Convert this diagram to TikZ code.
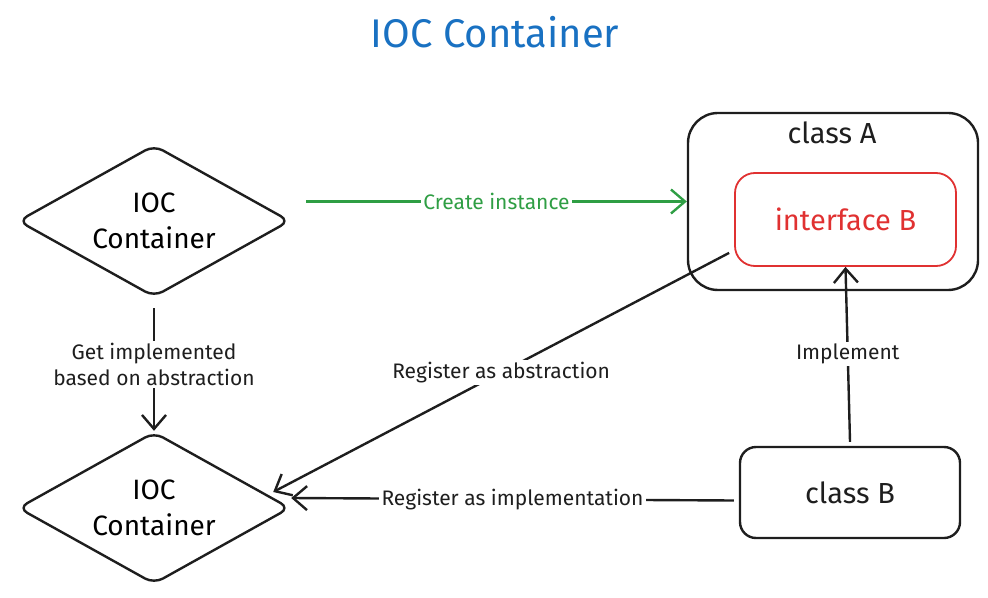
\documentclass[tikz,border=0pt]{standalone}
\usepackage{fontspec}
\setmainfont{Fira Sans}
\usepackage{tikz}
\usetikzlibrary{shapes.geometric,arrows.meta,calc}

\definecolor{inkblack}{HTML}{1E1E1E}
\definecolor{inkblue}{HTML}{1971C2}
\definecolor{inkred}{HTML}{E03131}
\definecolor{inkgreen}{HTML}{2F9E44}

\begin{document}
\begin{tikzpicture}[x=0.5pt,y=-0.5pt,
        container/.style={diamond,aspect=1.8,draw=inkblack,line width=1.2pt,rounded corners=5pt,
            minimum width=136pt,minimum height=76pt,inner sep=0pt,align=center,
            font=\fontsize{14}{18}\selectfont},
        classbox/.style={draw=inkblack,line width=1.2pt,inner sep=0pt},
        flow/.style={draw=inkblack,line width=1.2pt,-{Straight Barb[length=7pt,width=12pt]}},
        flowlabel/.style={fill=white,inner sep=1pt,text=inkblack,
            font=\fontsize{10.5}{13}\selectfont,align=center},
    ]
    \useasboundingbox (0,0) rectangle (988,598);
    % title
    \node[text=inkblue,font=\fontsize{20}{22}\selectfont] (title) at (495,32) {IOC Container};
    % containers
    \node[container] (top) at (154,221) {IOC\\Container};
    \node[container] (bottom) at (154,508) {IOC\\Container};
    % classes
    \node[classbox,rounded corners=15pt,minimum width=145pt,minimum height=88.5pt] (classA) at (833,201.5) {};
    \node[text=inkblack,font=\fontsize{14.5}{18}\selectfont] (classAname) at (832,133) {class A};
    \node[draw=inkred,line width=0.9pt,rounded corners=10pt,minimum width=110.5pt,minimum height=46.5pt,
        text=inkred,font=\fontsize{14.5}{18}\selectfont] (ifaceB) at (845.5,219.5) {interface B};
    \node[classbox,rounded corners=8pt,minimum width=110pt,minimum height=45.5pt,
        text=inkblack,font=\fontsize{14.5}{18}\selectfont] (classB) at (850,492.5) {class B};
    % connectors
    \draw[flow,draw=inkgreen] ($(top.east |- classA.west)+(15,0)$) -- (classA.west)
        node[flowlabel,midway,text=inkgreen] (lblcreate) {Create instance};
    \draw[flow,shorten <=5pt] (top.south) -- (bottom.north)
        node[flowlabel,midway] (lblget) {Get implemented\\based on abstraction};
    \draw[flow] ($(classB.north)+(0,-4)$) -- (ifaceB.south)
        node[flowlabel,midway] (lblimpl) {Implement};
    \draw[flow] ($(ifaceB.south west)+(-5,-14)$) -- ($(bottom.east)+(-18,-16)$)
        node[flowlabel,midway] (lblabs) {Register as abstraction};
    \draw[flow] ($(classB.west)+(-5,8)$) -- ($(bottom.east)+(0,-10)$)
        node[flowlabel,midway] (lblreg) {Register as implementation};
\end{tikzpicture}
\end{document}
